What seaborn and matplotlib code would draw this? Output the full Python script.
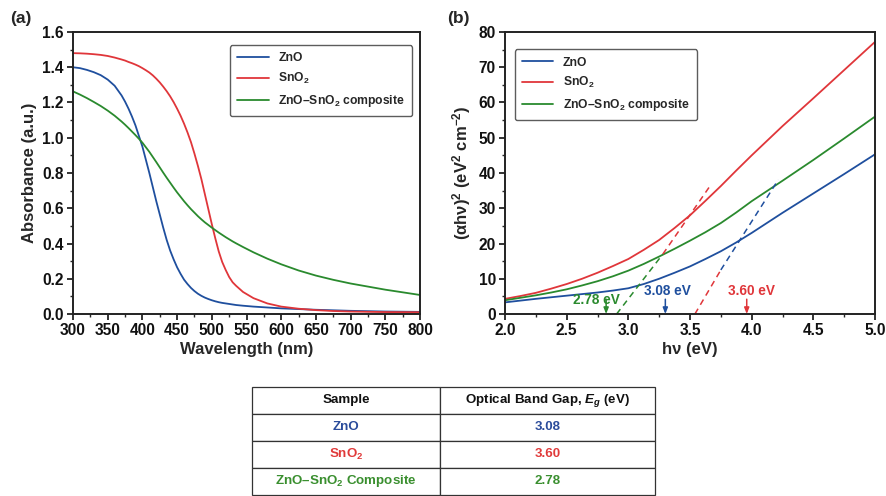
import numpy as np
import pandas as pd
import seaborn as sns
import matplotlib
matplotlib.use("Agg")
import matplotlib.pyplot as plt
from matplotlib.ticker import MultipleLocator, FormatStrFormatter

sns.set_theme(style="ticks")
plt.rcParams['font.family'] = ['Liberation Sans', 'DejaVu Sans']
plt.rcParams['font.weight'] = 'bold'
plt.rcParams['axes.labelweight'] = 'bold'
plt.rcParams['mathtext.fontset'] = 'custom'
plt.rcParams['mathtext.rm'] = 'Liberation Sans:bold'
plt.rcParams['mathtext.bf'] = 'Liberation Sans:bold'
plt.rcParams['mathtext.it'] = 'Liberation Sans:italic:bold'
plt.rcParams['mathtext.default'] = 'bf'

# ---------------- data ----------------
series_names = ["ZnO", "SnO$_2$", "ZnO–SnO$_2$ composite"]
colors = ["#1f4f9e", "#e0363a", "#2a8a2e"]

wavelength = [300, 310, 320, 330, 340, 350, 360, 370, 375, 380, 385, 390, 395, 400, 405,
              410, 415, 420, 425, 430, 435, 440, 445, 450, 455, 460, 465, 470, 475, 480,
              485, 490, 495, 500, 505, 510, 515, 520, 525, 530, 535, 545, 560, 580, 600,
              625, 650, 675, 700, 750, 800]
abs_zno = [1.400, 1.395, 1.385, 1.372, 1.355, 1.330, 1.295, 1.240, 1.205, 1.165, 1.120,
           1.070, 1.010, 0.950, 0.875, 0.800, 0.720, 0.640, 0.565, 0.490, 0.420, 0.360,
           0.310, 0.265, 0.228, 0.195, 0.170, 0.148, 0.130, 0.115, 0.103, 0.093, 0.085,
           0.078, 0.072, 0.067, 0.063, 0.060, 0.057, 0.054, 0.051, 0.047, 0.042, 0.037,
           0.032, 0.028, 0.024, 0.021, 0.018, 0.014, 0.012]
abs_sno2 = [1.480, 1.479, 1.477, 1.474, 1.470, 1.464, 1.455, 1.444, 1.438, 1.430, 1.423,
            1.415, 1.406, 1.395, 1.383, 1.370, 1.354, 1.335, 1.314, 1.290, 1.264, 1.235,
            1.202, 1.165, 1.125, 1.080, 1.030, 0.975, 0.910, 0.840, 0.765, 0.680, 0.595,
            0.510, 0.430, 0.355, 0.295, 0.250, 0.210, 0.180, 0.160, 0.125, 0.090, 0.060,
            0.042, 0.030, 0.022, 0.017, 0.014, 0.011, 0.010]
abs_comp = [1.263, 1.245, 1.225, 1.203, 1.180, 1.154, 1.125, 1.092, 1.074, 1.055, 1.035,
            1.015, 0.994, 0.972, 0.946, 0.920, 0.891, 0.862, 0.832, 0.802, 0.773, 0.745,
            0.717, 0.690, 0.665, 0.640, 0.617, 0.595, 0.575, 0.555, 0.537, 0.520, 0.505,
            0.490, 0.476, 0.462, 0.449, 0.436, 0.424, 0.412, 0.401, 0.380, 0.350, 0.314,
            0.282, 0.247, 0.218, 0.194, 0.173, 0.138, 0.108]

energy = [2.0, 2.125, 2.25, 2.375, 2.5, 2.625, 2.75, 2.875, 3.0, 3.125, 3.25, 3.375, 3.5,
          3.625, 3.75, 3.875, 4.0, 4.25, 4.5, 4.75, 5.0]
tauc_zno = [3.3, 3.8, 4.3, 4.75, 5.2, 5.65, 6.1, 6.65, 7.3, 8.5, 10.0, 11.7, 13.5,
            15.6, 17.8, 20.3, 23.0, 28.7, 34.2, 39.7, 45.3]
tauc_sno2 = [4.3, 5.1, 6.0, 7.2, 8.5, 10.0, 11.7, 13.6, 15.6, 18.2, 21.0, 24.4, 28.0,
             32.1, 36.3, 40.7, 45.0, 53.3, 61.2, 69.2, 77.2]
tauc_comp = [3.9, 4.6, 5.3, 6.1, 7.0, 8.1, 9.3, 10.7, 12.3, 14.2, 16.3, 18.5, 20.8,
             23.2, 25.8, 28.8, 32.0, 37.8, 43.7, 49.8, 56.0]

# tangent (dashed) segments: (x0, y0, x1, y1, colour index)
tangent_segments = [
    (2.905, 0.0, 3.28, 17.0, 2),
    (3.28, 17.0, 3.66, 36.2, 1),
    (3.54, 0.0, 3.75, 12.5, 1),
    (3.75, 12.5, 4.216, 38.1, 0),
]
gap_labels = ["3.08 eV", "3.60 eV", "2.78 eV"]
arrow_x = [3.30, 3.96, 2.82]
label_pos = [(3.32, 4.4), (4.0, 4.4), (2.74, 2.0)]

table_header = ["Sample", "Optical Band Gap, $\\mathit{E_g}$ (eV)"]
table_samples = ["ZnO", "SnO$_2$", "ZnO–SnO$_2$ Composite"]
table_gaps = ["3.08", "3.60", "2.78"]
table_colors = ["#2b4c9b", "#e03a3a", "#3a8f2f"]

# ---------------- figure ----------------
fig = plt.figure(figsize=(8.87, 4.96), dpi=100)
axA = fig.add_axes([73/887, 1-314/496, 347/887, 282/496])
axB = fig.add_axes([505/887, 1-314/496, 370/887, 282/496])

dfA = pd.concat([
    pd.DataFrame({"wl": wavelength, "A": v, "s": n})
    for v, n in zip([abs_zno, abs_sno2, abs_comp], series_names)
])
sns.lineplot(data=dfA, x="wl", y="A", hue="s", palette=colors, ax=axA,
             linewidth=1.3, sort=False, estimator=None)

dfB = pd.concat([
    pd.DataFrame({"E": energy, "T": v, "s": n})
    for v, n in zip([tauc_zno, tauc_sno2, tauc_comp], series_names)
])
sns.lineplot(data=dfB, x="E", y="T", hue="s", palette=colors, ax=axB,
             linewidth=1.3, sort=False, estimator=None)

for x0, y0, x1, y1, ci in tangent_segments:
    axB.plot([x0, x1], [y0, y1], ls=(0, (4, 3)), color=colors[ci], lw=1.1)

for lab, ax_, (lx, ly), ci in zip(gap_labels, arrow_x, label_pos, [0, 1, 2]):
    axB.annotate("", xy=(ax_, 0.0), xytext=(ax_, 4.2),
                 arrowprops=dict(arrowstyle="-|>,head_length=0.3,head_width=0.12",
                                 color=colors[ci], lw=1.1, shrinkA=0, shrinkB=0))
    axB.text(lx, ly, lab, color=colors[ci], fontsize=9.8, fontweight="bold",
             ha="center", va="bottom")

for ax in (axA, axB):
    for sp in ax.spines.values():
        sp.set_visible(True)
        sp.set_linewidth(1.4)
        sp.set_color("#222222")
    ax.tick_params(axis="both", which="major", direction="out", length=4, width=1.2,
                   labelsize=11.2, colors="#111111", pad=2.5)
    ax.tick_params(axis="both", which="minor", direction="out", length=2.2, width=1.0)
    for t in ax.get_xticklabels() + ax.get_yticklabels():
        t.set_fontweight("bold")
    leg = ax.legend(loc="upper right" if ax is axA else "upper left",
                    fontsize=8.7, frameon=True, handlelength=2.6,
                    borderpad=0.6, labelspacing=0.55, fancybox=True)
    leg.get_frame().set_edgecolor("#333333")
    leg.get_frame().set_linewidth(1.0)
    for t in leg.get_texts():
        t.set_fontweight("bold")

axA.set_xlim(300, 800)
axA.set_ylim(0, 1.6)
axA.xaxis.set_major_locator(MultipleLocator(50))
axA.xaxis.set_minor_locator(MultipleLocator(25))
axA.yaxis.set_major_locator(MultipleLocator(0.2))
axA.yaxis.set_minor_locator(MultipleLocator(0.1))
axA.yaxis.set_major_formatter(FormatStrFormatter("%.1f"))
axA.set_xlabel("Wavelength (nm)", fontsize=12, fontweight="bold", labelpad=3)
axA.set_ylabel("Absorbance (a.u.)", fontsize=12, fontweight="bold", labelpad=4)
axA.legend_.set_bbox_to_anchor((0.995, 0.975))

axB.set_xlim(2.0, 5.0)
axB.set_ylim(0, 80)
axB.xaxis.set_major_locator(MultipleLocator(0.5))
axB.xaxis.set_minor_locator(MultipleLocator(0.25))
axB.yaxis.set_major_locator(MultipleLocator(10))
axB.yaxis.set_minor_locator(MultipleLocator(5))
axB.xaxis.set_major_formatter(FormatStrFormatter("%.1f"))
axB.set_xlabel("hν (eV)", fontsize=12, fontweight="bold", labelpad=3)
axB.set_ylabel("(αhν)$^2$ (eV$^2$ cm$^{-2}$)", fontsize=12, fontweight="bold", labelpad=4)
axB.legend_.set_bbox_to_anchor((0.01, 0.96))

fig.text(10/887, 1-18/496, "(a)", fontsize=12.5, fontweight="bold", va="center")
fig.text(447/887, 1-18/496, "(b)", fontsize=12.5, fontweight="bold", va="center")

# ---------------- table ----------------
axT = fig.add_axes([252/887, 1-495/496, 403/887, 108/496])
axT.axis("off")
cell_text = [[s, g] for s, g in zip(table_samples, table_gaps)]
tbl = axT.table(cellText=cell_text, colLabels=table_header, cellLoc="center",
                bbox=[0, 0, 1, 1], colWidths=[188/403, 215/403])
tbl.auto_set_font_size(False)
for (r, c), cell in tbl.get_celld().items():
    cell.set_edgecolor("#333333")
    cell.set_linewidth(0.9)
    cell.set_facecolor("white")
    txt = cell.get_text()
    txt.set_fontsize(9.6)
    txt.set_fontweight("bold")
    if r == 0:
        txt.set_color("#111111")
    else:
        txt.set_color(table_colors[r - 1])

fig.savefig("out.png", dpi=100)
